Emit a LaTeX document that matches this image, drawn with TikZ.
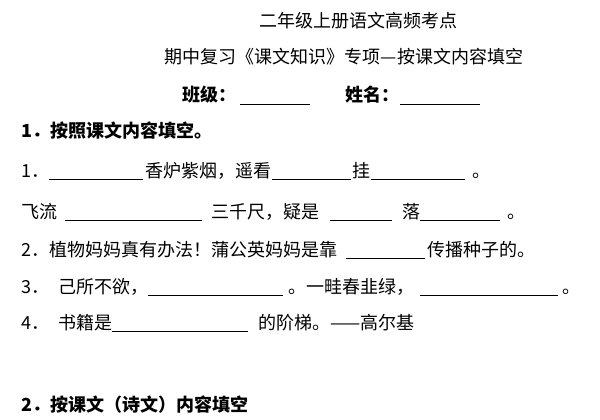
\documentclass[tikz,border=0pt]{standalone}
\usepackage{fontspec}
\setmainfont{Noto Sans CJK SC}
\begin{document}
\begin{tikzpicture}[x=1pt,y=-1pt,
  t/.style={anchor=base west,inner sep=0pt,font=\fontsize{18}{20}\selectfont},
  tb/.style={t,font=\fontsize{18}{20}\selectfont\bfseries},
  tc/.style={anchor=base,inner sep=0pt,font=\fontsize{18}{20}\selectfont},
  blank/.style={line width=0.7pt}]
\useasboundingbox[fill=white] (0,0) rectangle (600,420);
\node[tc] (h1) at (358,28) {二年级上册语文高频考点};
\node[tc] (h2) at (344,64) {期中复习《课文知识》专项—按课文内容填空};
\node[tb] (bj) at (182,102) {班级：};
\coordinate (b1a) at (240,104); \coordinate (b1b) at (310,104);
\draw[blank] (b1a) -- (b1b);
\node[tb] (xm) at (345,102) {姓名：};
\coordinate (b2a) at (400,104); \coordinate (b2b) at (480,104);
\draw[blank] (b2a) -- (b2b);
\node[tb] (s1) at (21,137) {1．按照课文内容填空。};
% line 1
\node[t] (a1) at (21,177) {1．};
\draw[blank] (49,179) -- (143,179);
\node[t] (a2) at (145,177) {香炉紫烟，遥看};
\draw[blank] (272,179) -- (351,179);
\node[t] (a3) at (352,177) {挂};
\draw[blank] (371,179) -- (465,179);
\node[t] (a4) at (472,177) {。};
% line 2
\node[t] (c1) at (21,218) {飞流};
\draw[blank] (65,220) -- (202,220);
\node[t] (c2) at (211,218) {三千尺，疑是};
\draw[blank] (330,220) -- (392,220);
\node[t] (c3) at (402,218) {落};
\draw[blank] (420,220) -- (500,220);
\node[t] (c4) at (507,218) {。};
% line 3
\node[t] (d1) at (21,256) {2．植物妈妈真有办法！蒲公英妈妈是靠};
\draw[blank] (346,258) -- (425,258);
\node[t] (d2) at (427,256) {传播种子的。};
% line 4
\node[t] (e1) at (21,293) {3．};
\node[t] (e2) at (58,293) {己所不欲，};
\draw[blank] (148,295) -- (283,295);
\node[t] (e3) at (288,293) {。一畦春韭绿，};
\draw[blank] (420,295) -- (558,295);
\node[t] (e4) at (562,293) {。};
% line 5
\node[t] (f1) at (21,329) {4．};
\node[t] (f2) at (58,329) {书籍是};
\draw[blank] (112,331) -- (248,331);
\node[t] (f3) at (258,329) {的阶梯。——高尔基};
\node[tb] (s2) at (21,411) {2．按课文（诗文）内容填空};
\end{tikzpicture}
\end{document}
